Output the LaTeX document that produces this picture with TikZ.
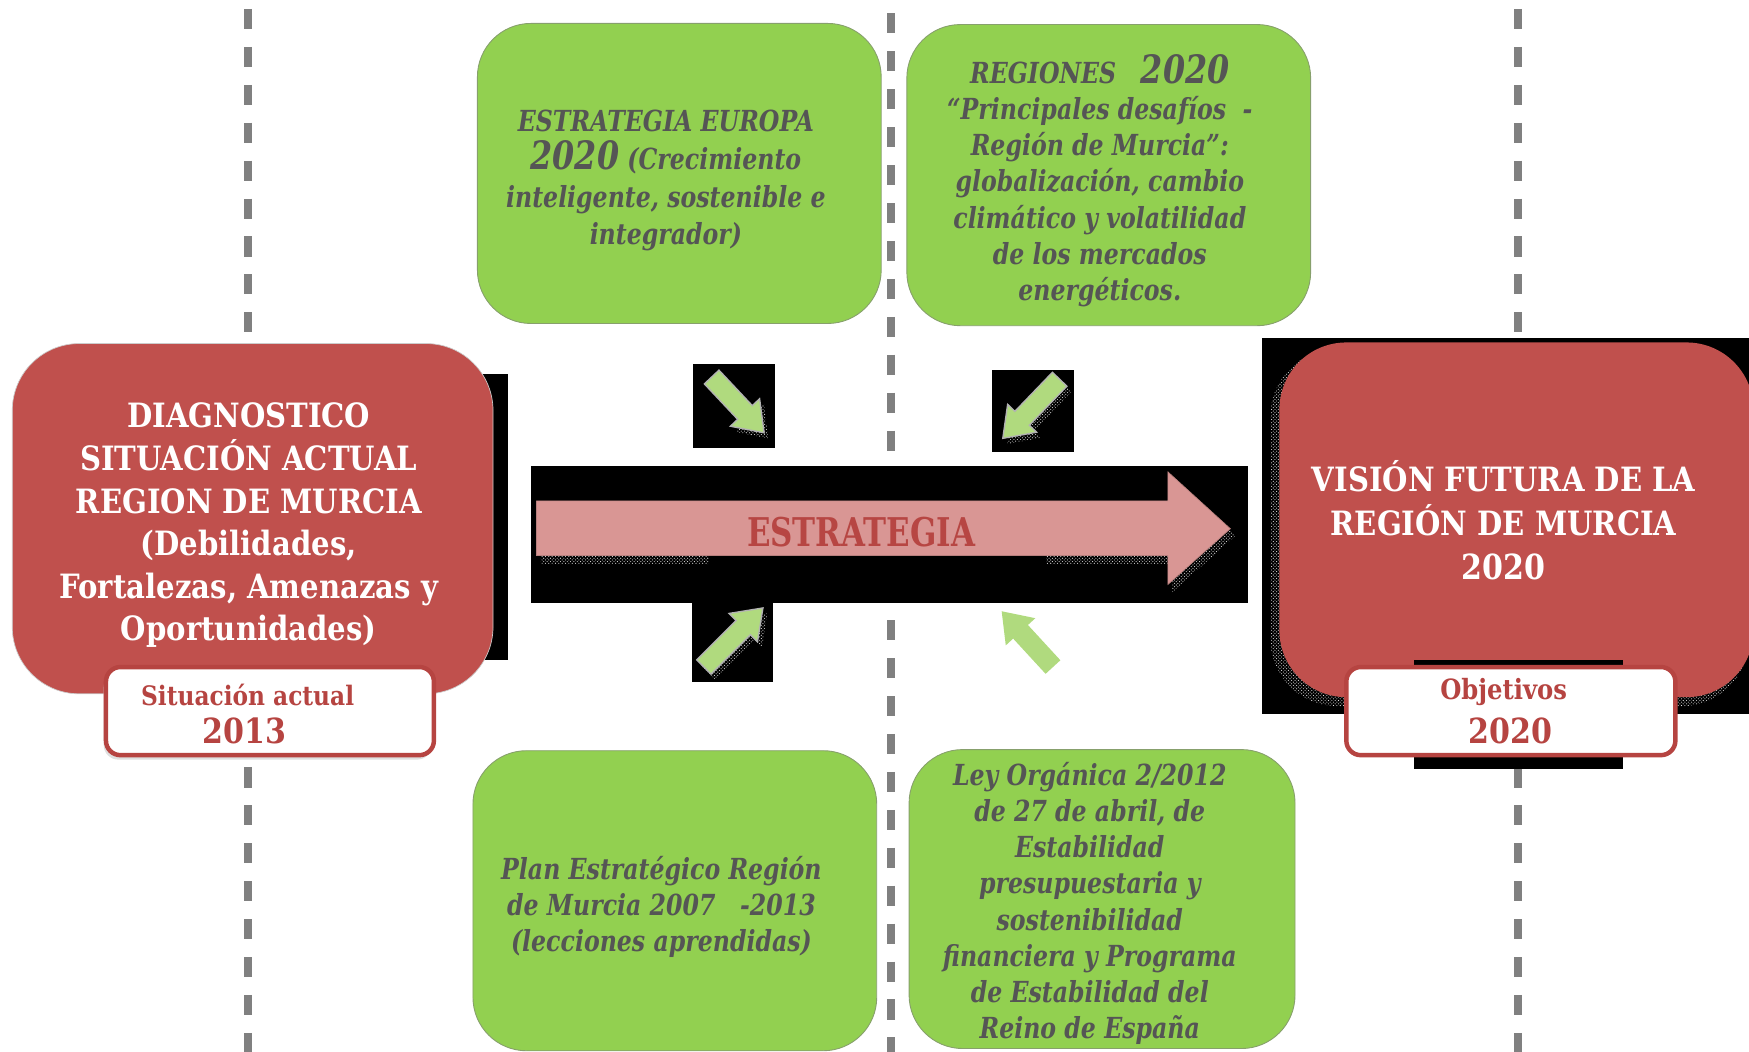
\documentclass[tikz,border=0pt]{standalone}
\usepackage{fontspec}
\usetikzlibrary{calc,patterns}
\newfontfamily\redfont[FakeStretch=0.87]{DejaVu Serif}
\newfontfamily\greenfont[FakeStretch=0.815]{DejaVu Serif}
\newfontfamily\strfont[FakeStretch=0.78]{DejaVu Serif}
\definecolor{redbox}{RGB}{192,80,77}
\definecolor{greenbox}{RGB}{146,208,80}
\definecolor{dashgray}{RGB}{128,128,128}
\definecolor{txtgray}{RGB}{85,85,85}
\definecolor{labred}{RGB}{182,68,65}
\definecolor{pinkarrow}{RGB}{217,150,148}
\definecolor{strred}{RGB}{183,70,67}
\definecolor{smallarrow}{RGB}{176,218,126}
\newcommand{\blkarrow}[3]{%
  \coordinate (ba-s) at #1; \coordinate (ba-t) at #2;
  \coordinate (ba-h) at ($(ba-t)!25pt!(ba-s)$);
  \path[#3] ($(ba-s)!9pt!90:(ba-t)$) -- ($(ba-h)!9pt!90:(ba-t)$) -- ($(ba-h)!18pt!90:(ba-t)$)
    -- (ba-t) -- ($(ba-h)!18pt!-90:(ba-t)$) -- ($(ba-h)!9pt!-90:(ba-t)$) -- ($(ba-s)!9pt!-90:(ba-t)$) -- cycle;
}
\tikzset{
  dashline/.style={draw=dashgray, line width=7pt, dash pattern=on 18pt off 16pt},
  greenbox/.style={draw=gray!60!greenbox, line width=0.8pt, fill=greenbox, rounded corners=48pt, inner sep=0pt},
  redbox/.style={fill=redbox, rounded corners=60pt, inner sep=0pt},
  labelbox/.style={draw=labred, line width=4pt, fill=white, rounded corners=13pt, inner sep=0pt},
  greentext/.style={text=txtgray, align=center, font=\greenfont\bfseries\itshape\fontsize{26}{32.5}\selectfont, inner sep=0pt},
  redtext/.style={text=white, align=center, font=\redfont\bfseries\fontsize{30}{38.2}\selectfont, inner sep=0pt},
  labtext/.style={text=labred, inner sep=0pt, font=\redfont\bfseries},
  dots/.style={pattern=crosshatch dots, pattern color=white!75!gray},
  arrowfill/.style={fill=smallarrow, draw=gray!60, line width=1.2pt},
}
\begin{document}
\begin{tikzpicture}[x=1pt,y=-1pt]
\useasboundingbox (0,0) rectangle (1568,943);
\clip (0,0) rectangle (1568,943);
% dashed guide lines
\draw[dashline] (222,8) -- (222,950);
\draw[dashline] (799,12) -- (799,950);
\draw[dashline] (1361,8) -- (1361,950);
% green boxes
\node[greenbox, minimum width=362pt, minimum height=269pt] (tl) at (609,155.5) {};
\node[greenbox, minimum width=362pt, minimum height=270pt] (tr) at (994,157) {};
\node[greenbox, minimum width=362pt, minimum height=269pt] (bl) at (605,807.5) {};
\node[greenbox, minimum width=346pt, minimum height=268pt] (br) at (988,806) {};
\node[greentext, font=\greenfont\bfseries\itshape\fontsize{26}{33.8}\selectfont] (tlt) at (597,162) {ESTRATEGIA EUROPA\\{\fontsize{35}{33.8}\selectfont 2020} (Crecimiento\\inteligente, sostenible e\\integrador)};
\node[greentext] (trt) at (986,162) {REGIONES\ \ \ {\fontsize{35}{32.5}\selectfont 2020}\\“Principales desafíos\ \ -\\Región de Murcia”:\\globalización, cambio\\climático y volatilidad\\de los mercados\\energéticos.};
\node[greentext] (blt) at (593,813) {Plan Estratégico Región\\de Murcia 2007\ \ \ -2013\\(lecciones aprendidas)};
\node[greentext] (brt) at (977,810) {Ley Orgánica 2/2012\\de 27 de abril, de\\Estabilidad\\presupuestaria y\\sostenibilidad\\financiera y Programa\\de Estabilidad del\\Reino de España};
% left red box
\fill[black] (420,335) rectangle (455,592);
\node[redbox, draw=gray!40, line width=0.6pt, minimum width=431pt, minimum height=314pt] (diag) at (226.5,465) {};
\node[redtext] (diagt) at (223,471) {DIAGNOSTICO\\SITUACIÓN ACTUAL\\REGION DE MURCIA\\(Debilidades,\\Fortalezas, Amenazas y\\Oportunidades)};
\fill[gray!25, rounded corners=13pt] (93,603) rectangle (387,681);
\node[labelbox, minimum width=294pt, minimum height=79pt] (lab1) at (242,637.5) {};
\node[labtext, font=\redfont\bfseries\fontsize{24}{28}\selectfont] (lab1a) at (222,623) {Situación actual};
\node[labtext, font=\redfont\bfseries\fontsize{31}{34}\selectfont] (lab1b) at (219,655) {2013};
% right red box
\fill[black] (1131,303) rectangle (1570,640);
\path[dots, rounded corners=60pt] (1139,313) rectangle (1568,633);
\node[redbox, minimum width=425pt, minimum height=318pt] (vis) at (1359.5,466) {};
\node[redtext, font=\redfont\bfseries\fontsize{30}{39.5}\selectfont] (vist) at (1348,466) {VISIÓN FUTURA DE LA\\REGIÓN DE MURCIA\\{\fontsize{31}{41}\selectfont 2020}};
\fill[black] (1268,592) rectangle (1455,689);
\node[labelbox, minimum width=295pt, minimum height=79pt] (lab2) at (1354.5,637.5) {};
\node[labtext, font=\redfont\bfseries\fontsize{25}{28}\selectfont] (lab2a) at (1348,620) {Objetivos};
\node[labtext, font=\redfont\bfseries\fontsize{31}{34}\selectfont] (lab2b) at (1354,655) {2020};
% strategy arrow
\fill[black] (476,418) rectangle (1119,541);
\path[dots] (485,455) -- (1051,455) -- (1051,429) -- (1108,480) -- (1051,531) -- (1051,506) -- (485,506) -- cycle;
\fill[black] (636,455) rectangle (938,512);
\fill[black] (476,418) rectangle (1047,455);
\path[fill=pinkarrow, draw=pinkarrow!85!black, line width=0.6pt] (481,449) -- (1047,449) -- (1047,423) -- (1103,474) -- (1047,524) -- (1047,498) -- (481,498) -- cycle;
\node[text=strred, inner sep=0pt, font=\strfont\bfseries\fontsize{35.5}{40}\selectfont] (strt) at (772,477) {ESTRATEGIA};
% small arrows
\fill[black] (621,326) rectangle (695,402);
\blkarrow{(642,343)}{(689,393)}{dots}
\blkarrow{(638,338)}{(685,388)}{arrowfill}
\fill[black] (889,332) rectangle (963,405);
\blkarrow{(954,345)}{(903,398)}{dots}
\blkarrow{(950,340)}{(899,393)}{arrowfill}
\fill[black] (620,541) rectangle (693,611);
\blkarrow{(635,603)}{(688,550)}{dots}
\blkarrow{(631,598)}{(684,545)}{arrowfill}
\blkarrow{(944,598)}{(898,548)}{fill=smallarrow}
\end{tikzpicture}
\end{document}
